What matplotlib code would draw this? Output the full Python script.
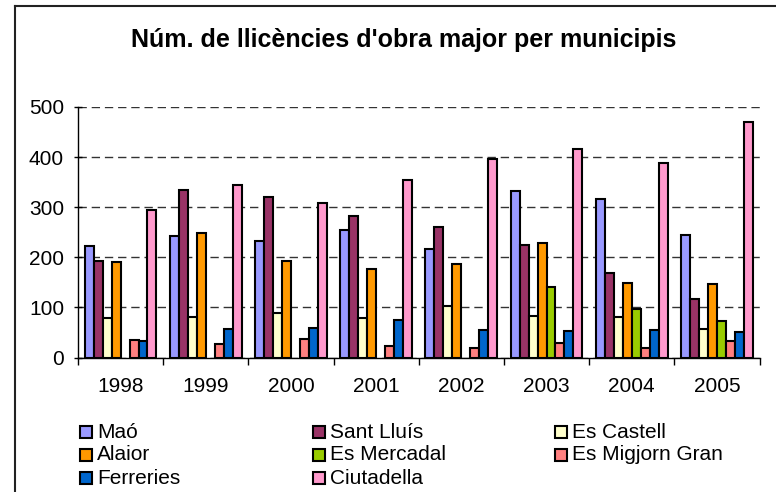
import numpy as np
import matplotlib.pyplot as plt
from matplotlib.lines import Line2D

plt.rcParams['font.family'] = ['Liberation Sans', 'DejaVu Sans']

years = ['1998', '1999', '2000', '2001', '2002', '2003', '2004', '2005']
municipis = ['Maó', 'Sant Lluís', 'Es Castell', 'Alaior', 'Es Mercadal',
             'Es Migjorn Gran', 'Ferreries', 'Ciutadella']

mao = [223, 243, 233, 255, 217, 333, 317, 244]
sant_lluis = [193, 335, 321, 282, 261, 225, 169, 117]
es_castell = [78, 81, 89, 78, 103, 82, 80, 56]
alaior = [190, 248, 193, 177, 187, 229, 149, 147]
es_mercadal = [np.nan, np.nan, np.nan, np.nan, np.nan, 140, 97, 73]
es_migjorn = [35, 27, 37, 23, 19, 29, 18, 33]
ferreries = [32, 56, 59, 74, 55, 53, 55, 50]
ciutadella = [295, 345, 309, 355, 397, 417, 389, 471]

series = [mao, sant_lluis, es_castell, alaior, es_mercadal, es_migjorn, ferreries, ciutadella]
colors = ['#9999FF', '#993366', '#FFFFCC', '#FF9900', '#99CC00', '#FF8080', '#0066CC', '#FF99CC']

fig = plt.figure(figsize=(7.76, 4.92), dpi=100)
W, H = 776, 492
ax = fig.add_axes([78 / W, 1 - 357.5 / H, (759.5 - 78) / W, 250.5 / H])

n = len(series)
bw = 1 / (n + 1.5)
x = np.arange(len(years))
for i, (vals, c) in enumerate(zip(series, colors)):
    off = (i - (n - 1) / 2) * bw
    v = np.array(vals, dtype=float)
    ok = ~np.isnan(v)
    ax.bar(x[ok] + off, v[ok], width=bw, color=c, edgecolor='black', linewidth=1.5, zorder=3)

ax.set_xlim(-0.5, len(years) - 0.5)
ax.set_ylim(0, 500)
ax.set_yticks(range(0, 501, 100))
ax.yaxis.grid(True, color='#333333', linestyle=(0, (6, 3.5)), linewidth=1.0, zorder=0)

ax.set_xticks(x)
ax.set_xticklabels(years)
ax.set_xticks(np.arange(len(years) + 1) - 0.5, minor=True)
ax.tick_params(axis='x', which='major', length=0, pad=14, labelsize=15)
ax.tick_params(axis='x', which='minor', length=5, width=1, direction='out')
ax.tick_params(axis='y', length=6, width=1, direction='inout', pad=7, labelsize=15)

for s in ['top', 'right']:
    ax.spines[s].set_visible(False)
for s in ['left', 'bottom']:
    ax.spines[s].set_color('black')
    ax.spines[s].set_linewidth(1.0)

fig.text(404 / W, 1 - 40 / H, "Núm. de llicències d'obra major per municipis",
         ha='center', va='center', fontsize=18, fontweight='bold')

# outer chart frame (only top and left edges are visible)
fig.add_artist(Line2D([15 / W, 15 / W], [0, 1 - 6 / H], transform=fig.transFigure,
                      color='#222222', linewidth=1.5))
fig.add_artist(Line2D([15 / W, 1], [1 - 6 / H, 1 - 6 / H], transform=fig.transFigure,
                      color='#222222', linewidth=1.5))

# legend: three columns, filled row by row
col_x = [80, 313, 555]
row_y = [432, 455, 478]
for i, (name, c) in enumerate(zip(municipis, colors)):
    cx = col_x[i % 3]
    cy = row_y[i // 3]
    fig.patches.append(plt.Rectangle((cx / W, 1 - (cy + 6) / H), 12 / W, 12 / H,
                                     transform=fig.transFigure, facecolor=c,
                                     edgecolor='black', linewidth=1.5))
    fig.text((cx + 17) / W, 1 - cy / H, name, ha='left', va='center', fontsize=15)

fig.savefig('out.png', dpi=100)
